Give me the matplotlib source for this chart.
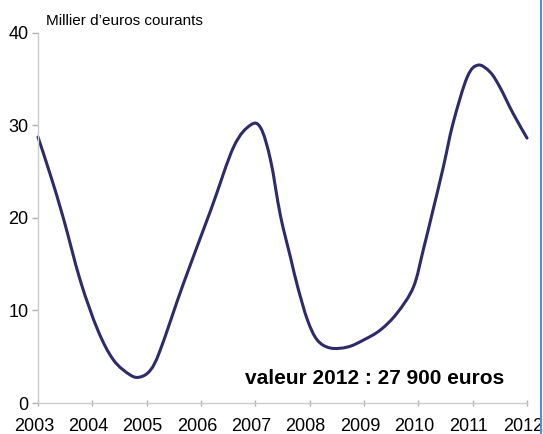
import matplotlib
matplotlib.use("Agg")
import matplotlib.pyplot as plt
from matplotlib.lines import Line2D
from matplotlib.path import Path
from matplotlib.patches import PathPatch
import matplotlib.transforms as mtransforms

plt.rcParams['font.family'] = ['Liberation Sans', 'DejaVu Sans']

years = [2003.00, 2003.23, 2003.47, 2003.78, 2004.10, 2004.39, 2004.70, 2004.88,
         2005.07, 2005.25, 2005.68, 2006.18, 2006.60, 2006.91, 2007.10, 2007.28,
         2007.46, 2007.65, 2007.78, 2007.96, 2008.14, 2008.38, 2008.70, 2008.99,
         2009.30, 2009.61, 2009.91, 2010.09, 2010.27, 2010.46, 2010.64, 2010.90,
         2011.10, 2011.32, 2011.50, 2011.74, 2012.00]
values = [28.73, 24.60, 19.90, 13.20, 7.88, 4.64, 3.02, 2.81,
          3.56, 5.72, 12.96, 20.84, 27.65, 30.02, 29.70, 26.24,
          20.30, 15.66, 12.53, 8.96, 6.80, 5.94, 6.05, 6.80,
          7.88, 9.72, 12.53, 16.52, 20.84, 25.49, 30.24, 35.21,
          36.50, 35.75, 34.13, 31.32, 28.62]

xticks = list(range(2003, 2013))
xtick_labels = [str(y) for y in xticks]
yticks = [0, 10, 20, 30, 40]
ytick_labels = [str(v) for v in yticks]

unit_label = "Millier d\u2019euros courants"
note = "valeur 2012 : 27 900 euros"


def smooth_path(xs, ys, tension=1/6):
    """Smoothed-line rendering (Bezier segments through the data points)."""
    verts = [(xs[0], ys[0])]
    codes = [Path.MOVETO]
    n = len(xs)
    for i in range(n - 1):
        x0, y0 = (xs[i - 1], ys[i - 1]) if i > 0 else (xs[i], ys[i])
        x1, y1 = xs[i], ys[i]
        x2, y2 = xs[i + 1], ys[i + 1]
        x3, y3 = (xs[i + 2], ys[i + 2]) if i + 2 < n else (x2, y2)
        c1 = (x1 + (x2 - x0) * tension, y1 + (y2 - y0) * tension)
        c2 = (x2 - (x3 - x1) * tension, y2 - (y3 - y1) * tension)
        verts += [c1, c2, (x2, y2)]
        codes += [Path.CURVE4] * 3
    return Path(verts, codes)


fig = plt.figure(figsize=(5.43, 4.34), dpi=100)
ax = fig.add_axes([38/543, 1-403/434, (527-38)/543, (403-32.7)/434])

patch = PathPatch(smooth_path(years, values), facecolor='none',
                  edgecolor='#2e2b6b', lw=2.2, capstyle='round',
                  joinstyle='round', transform=ax.transData, clip_on=False)
ax.add_patch(patch)

ax.set_xlim(2003, 2012)
ax.set_ylim(0, 40)
for s in ['top', 'right']:
    ax.spines[s].set_visible(False)
for s in ['left', 'bottom']:
    ax.spines[s].set_color('#cccccc')
    ax.spines[s].set_linewidth(1.0)

ax.set_xticks(xticks)
ax.set_xticklabels(xtick_labels)
ax.set_yticks(yticks)
ax.set_yticklabels(ytick_labels)
ax.tick_params(axis='both', colors='#b0b0b0', labelcolor='black', labelsize=13,
               length=4, width=1)
ax.tick_params(axis='x', direction='inout', pad=9)
ax.tick_params(axis='y', direction='out', pad=3)

offset = mtransforms.ScaledTranslation(-4/100, 0, fig.dpi_scale_trans)
for lab in ax.get_xticklabels():
    lab.set_transform(lab.get_transform() + offset)

fig.text(46/543, 1-21/434, unit_label, fontsize=11, ha='left', va='center')
fig.text(245/543, 1-379/434, note, fontsize=15, fontweight='bold',
         ha='left', va='center')

fig.add_artist(Line2D([541/543, 541/543], [0, 1], transform=fig.transFigure,
                      color='#4a93de', lw=1.5))

fig.savefig('out.png', dpi=100)
